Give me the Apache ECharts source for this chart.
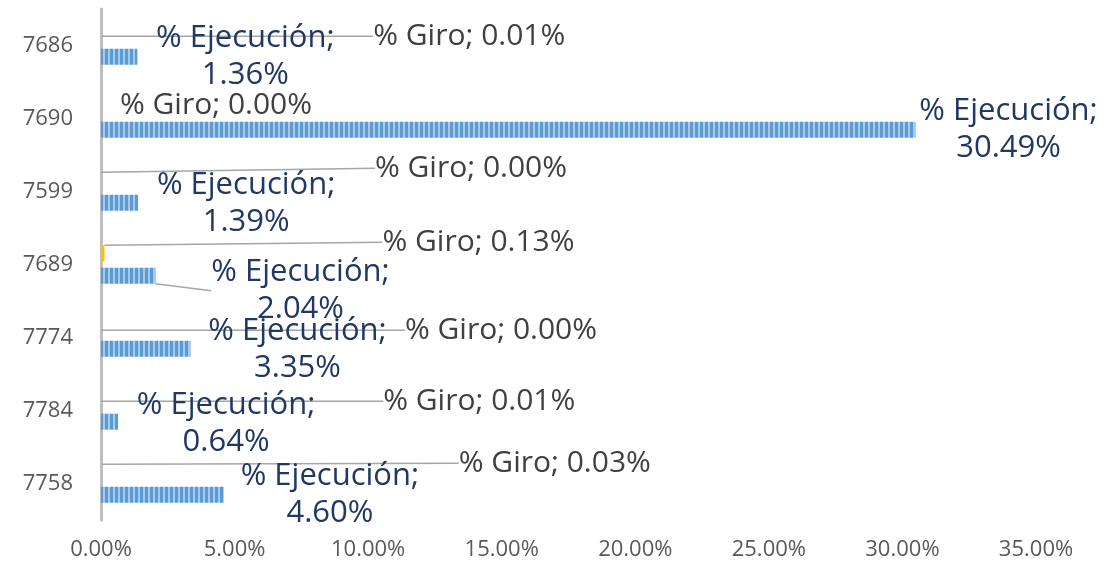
<!DOCTYPE html>
<html>
<head>
<meta charset="utf-8">
<script src="https://cdn.jsdelivr.net/npm/echarts@6/dist/echarts.min.js"></script>
<style>
  html, body { margin: 0; padding: 0; background: #fff; }
  #chart { width: 1117px; height: 568px; }
</style>
</head>
<body>
<div id="chart"></div>
<script>
// categories from top to bottom
var categories = ['7686', '7690', '7599', '7689', '7774', '7784', '7758'];
// values in percent
var giro = [0.01, 0.00, 0.00, 0.13, 0.00, 0.01, 0.03];
var ejecucion = [1.36, 30.49, 1.39, 2.04, 3.35, 0.64, 4.60];
var xTicks = [0, 5, 10, 15, 20, 25, 30, 35];

// manual label offsets (px from bar end / bar centre), like the moved Excel labels
var giroLabelDx = [368, 115, 370, 374, 400, 378, 453];
var giroLabelDy = [2, -2, -12, -11, 4, 2, -9];
var giroLeader = [true, false, true, true, true, true, true];
var ejecLabelDx = [108, 93, 108, 145, 107, 108, 106];
var ejecLabelDy = [0, 0, 1, 15, 1, 2, 0];
var ejecLeader = [false, false, false, true, false, false, false];

var chartDom = document.getElementById('chart');
var myChart = echarts.init(chartDom);

// vertical stripe fill for the bars
var stripe = document.createElement('canvas');
stripe.width = 5;
stripe.height = 4;
var ctx = stripe.getContext('2d');
ctx.fillStyle = '#a9cbeb';
ctx.fillRect(0, 0, 5, 4);
ctx.fillStyle = '#5b9bd5';
ctx.fillRect(0, 0, 3, 4);

var font = 'Open Sans';
var leaderStyle = { color: '#a6a6a6', width: 1.6 };

function layoutFor(dx, dy) {
  return function (params) {
    var r = params.rect;
    var i = params.dataIndex;
    return {
      x: r.x + r.width + dx[i],
      y: r.y + r.height / 2 + dy[i],
      align: 'center',
      verticalAlign: 'middle'
    };
  };
}

var option = {
  animation: false,
  grid: { left: 101, right: 81, top: 9, bottom: 48, containLabel: false },
  xAxis: {
    type: 'value',
    min: xTicks[0],
    max: xTicks[xTicks.length - 1],
    interval: 5,
    splitLine: { show: false },
    axisLine: { show: false },
    axisTick: { show: false },
    axisLabel: {
      color: '#595959',
      fontFamily: font,
      fontSize: 22,
      margin: 19,
      formatter: function (v) { return v.toFixed(2) + '%'; }
    }
  },
  yAxis: {
    type: 'category',
    inverse: true,
    data: categories,
    axisLine: { show: true, lineStyle: { color: '#bfbfbf', width: 3 } },
    axisTick: { show: false },
    axisLabel: { color: '#595959', fontFamily: font, fontSize: 22, margin: 28 }
  },
  series: [
    {
      name: '% Giro',
      type: 'bar',
      barWidth: 16,
      barGap: '40%',
      itemStyle: { color: '#ffc000' },
      data: giro.map(function (v, i) {
        return { value: v, labelLine: { show: giroLeader[i] } };
      }),
      label: {
        show: true,
        color: '#404040',
        fontFamily: font,
        fontSize: 30,
        formatter: function (p) { return '% Giro; ' + p.value.toFixed(2) + '%'; }
      },
      labelLine: { show: true, lineStyle: leaderStyle },
      labelLayout: layoutFor(giroLabelDx, giroLabelDy)
    },
    {
      name: '% Ejecución',
      type: 'bar',
      barWidth: 16,
      barGap: '40%',
      itemStyle: { color: { image: stripe, repeat: 'repeat' } },
      data: ejecucion.map(function (v, i) {
        return { value: v, labelLine: { show: ejecLeader[i] } };
      }),
      label: {
        show: true,
        color: '#1f3864',
        fontFamily: font,
        fontSize: 31,
        lineHeight: 37,
        align: 'center',
        formatter: function (p) { return '% Ejecución;\n' + p.value.toFixed(2) + '%'; }
      },
      labelLine: { show: true, lineStyle: leaderStyle },
      labelLayout: layoutFor(ejecLabelDx, ejecLabelDy)
    }
  ]
};

myChart.setOption(option);
</script>
</body>
</html>
